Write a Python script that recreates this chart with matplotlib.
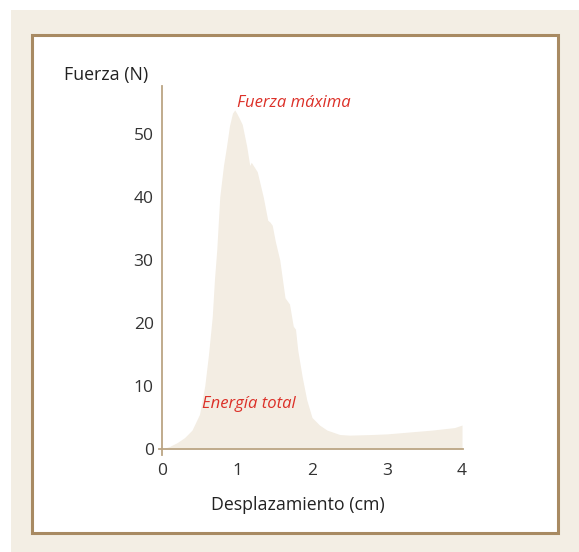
import numpy as np
import matplotlib.pyplot as plt
from matplotlib.patches import Rectangle

# desplazamiento (cm) y fuerza (N)
desplazamiento = [0.0, 0.1, 0.2, 0.3, 0.4, 0.5, 0.57, 0.62, 0.67, 0.70, 0.73, 0.77,
                  0.82, 0.86, 0.90, 0.94, 0.97, 1.00, 1.03, 1.07, 1.13, 1.17, 1.19, 1.27,
                  1.35, 1.41, 1.44, 1.47, 1.51, 1.57, 1.64, 1.70, 1.75, 1.78, 1.81,
                  1.87, 1.93, 2.00, 2.10, 2.20, 2.37, 2.50, 2.80, 3.00, 3.30, 3.60,
                  3.90, 4.00]
fuerza = [0.0, 0.4, 1.0, 1.8, 3.0, 5.5, 10.0, 15.0, 21.0, 27.0, 31.6, 40.0,
          45.0, 48.0, 51.3, 53.3, 53.8, 53.2, 52.5, 51.5, 48.0, 45.0, 45.5, 44.0,
          40.0, 36.3, 36.0, 35.5, 33.0, 30.0, 24.0, 23.0, 19.5, 19.0, 15.7,
          11.4, 7.8, 5.0, 3.8, 3.0, 2.3, 2.2, 2.3, 2.4, 2.7, 3.0,
          3.4, 3.8]
xticks = [0, 1, 2, 3, 4]
yticks = [0, 10, 20, 30, 40, 50]

W, H = 579, 552
plt.rcParams['font.family'] = ['Open Sans', 'DejaVu Sans']

fig = plt.figure(figsize=(W / 100, H / 100), dpi=100, facecolor='white')

# marco de fondo
fig.patches.append(Rectangle((11 / W, 0), 1 - 11 / W, 1 - 10 / H, transform=fig.transFigure,
                             facecolor='#f3eee4', edgecolor='none', zorder=-3))
fig.patches.append(Rectangle((32 / W, 1 - 533 / H), (558 - 32) / W, (533 - 35) / H,
                             transform=fig.transFigure, facecolor='white',
                             edgecolor='#a88a62', linewidth=2.2, zorder=-2))

ax = fig.add_axes([162 / W, 1 - 449 / H, 300 / W, 363 / H])
ax.set_facecolor('none')
ax.set_xlim(0, 4)
ax.set_ylim(0, 57.6)

ax.fill_between(desplazamiento, fuerza, 0, color='#f3ede3', linewidth=0)

for s in ax.spines.values():
    s.set_visible(False)
axc = '#bba584'
ax.plot([-0.035, 4.02], [0, 0], color=axc, lw=1.3, clip_on=False)
ax.plot([0, 0], [-0.9, 57.6], color=axc, lw=1.3, clip_on=False)

ax.set_xticks(xticks)
ax.set_yticks(yticks)
ax.tick_params(length=0, labelsize=12.5, labelcolor='#333333')
ax.tick_params(axis='x', pad=10)
ax.tick_params(axis='y', pad=6)

ax.text(1.0, 54.9, 'Fuerza máxima', color='#dc3028', style='italic', fontsize=12,
        va='center')
ax.text(0.53, 7.1, 'Energía total', color='#dc3028', style='italic', fontsize=12,
        va='center')

fig.text(106 / W, 1 - 75 / H, 'Fuerza (N)', ha='center', va='center', fontsize=12.8, color='#222222')
fig.text(298 / W, 1 - 505 / H, 'Desplazamiento (cm)', ha='center', va='center', fontsize=12.8, color='#222222')

fig.savefig('out.png', dpi=100, facecolor=fig.get_facecolor())
